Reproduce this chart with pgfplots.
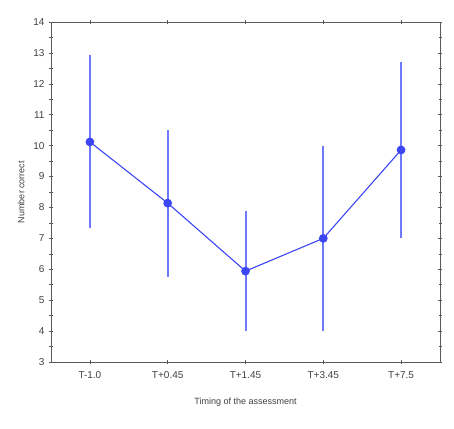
\documentclass[border=0pt]{standalone}
\usepackage{pgfplots}
\pgfplotsset{compat=1.18}
\usetikzlibrary{calc}
\usepackage{fontspec}
\setmainfont{Liberation Sans}
\definecolor{lineblue}{RGB}{60,70,245}
\definecolor{barblue}{RGB}{110,120,250}
\definecolor{framegray}{RGB}{90,90,90}
\pgfplotsset{ebar/.style={draw=barblue, line width=2pt, mark=none, forget plot}}
\begin{document}
\begin{tikzpicture}
\begin{axis}[
  scale only axis,
  width=389pt, height=340pt,
  xmin=-0.5, xmax=4.5,
  ymin=3, ymax=14,
  xtick={0,...,4},
  xticklabels={T-1.0, T+0.45, T+1.45, T+3.45, T+7.5},
  ytick={3,...,14},
  minor y tick num=1,
  tick align=center,
  major tick length=4pt, minor tick length=3pt,
  axis line style={framegray, line width=0.8pt},
  xtick style={framegray, line width=0.6pt},
  ytick style={framegray, line width=0.6pt},
  tick label style={font=\fontsize{10}{12}\selectfont, text=black!75},
  /pgf/number format/assume math mode=true,
  xticklabel style={yshift=-4pt},
  yticklabel style={xshift=-1pt},
  xlabel={Timing of the assessment},
  ylabel={Number correct},
  label style={font=\fontsize{9}{11}\selectfont, text=black!75},
  xlabel style={yshift=-12pt},
  ylabel style={yshift=2pt},
]
% error bars (mean +- error), one segment each
\addplot[ebar] coordinates {(0,7.32) (0,12.92)};
\addplot[ebar] coordinates {(1,5.76) (1,10.52)};
\addplot[ebar] coordinates {(2,3.99) (2,7.89)};
\addplot[ebar] coordinates {(3,4.00) (3,10.00)};
\addplot[ebar] coordinates {(4,7.00) (4,12.72)};
% means
\addplot[color=lineblue, line width=1.1pt, mark=*, mark size=3.8pt,
  mark options={fill=lineblue, draw=lineblue}]
coordinates {
  (0,10.12) (1,8.14) (2,5.94) (3,7.00) (4,9.86)
};
\end{axis}
\path ($(current axis.south west)+(-51pt,-66pt)$) rectangle ($(current axis.north east)+(14pt,22pt)$);
\end{tikzpicture}
\end{document}
